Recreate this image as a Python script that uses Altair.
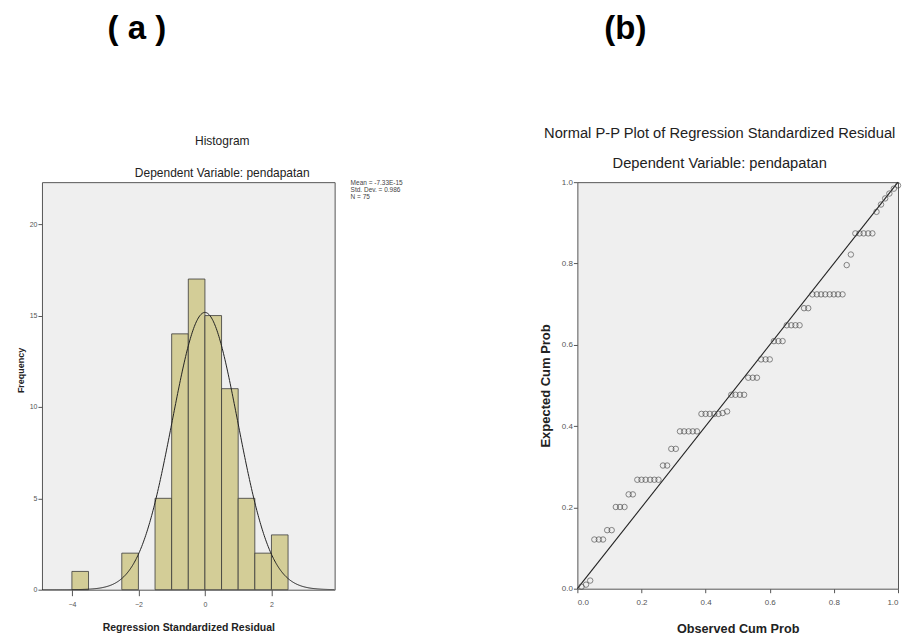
import altair as alt
import pandas as pd

FONT = "Liberation Sans"

# ---------------- data: histogram ----------------
bin_start = [-4.0, -3.5, -3.0, -2.5, -2.0, -1.5, -1.0, -0.5, 0.0, 0.5, 1.0, 1.5, 2.0]
bin_end = [-3.5, -3.0, -2.5, -2.0, -1.5, -1.0, -0.5, 0.0, 0.5, 1.0, 1.5, 2.0, 2.5]
frequency = [1, 0, 0, 2, 0, 5, 14, 17, 15, 11, 5, 2, 3]

resid_mean = 0.0
resid_sd = 0.986
resid_n = 75
bin_width = 0.5
stats_lines = ["Mean = -7.33E-15", "Std. Dev. = 0.986", "N = 75"]

x_ticks_hist = [-4, -2, 0, 2]
y_ticks_hist = [0, 5, 10, 15, 20]

# ---------------- data: P-P plot ----------------
observed_cum = [
    0.013, 0.027, 0.040, 0.053, 0.067, 0.080, 0.093, 0.107, 0.120, 0.133,
    0.147, 0.160, 0.173, 0.187, 0.200, 0.213, 0.227, 0.240, 0.253, 0.267,
    0.280, 0.293, 0.307, 0.320, 0.333, 0.347, 0.360, 0.373, 0.387, 0.400,
    0.413, 0.427, 0.440, 0.453, 0.467, 0.480, 0.493, 0.507, 0.520, 0.533,
    0.547, 0.560, 0.573, 0.587, 0.600, 0.613, 0.627, 0.640, 0.653, 0.667,
    0.680, 0.693, 0.707, 0.720, 0.733, 0.747, 0.760, 0.773, 0.787, 0.800,
    0.813, 0.827, 0.840, 0.853, 0.867, 0.880, 0.893, 0.907, 0.920, 0.933,
    0.947, 0.960, 0.973, 0.987, 1.000,
]
expected_cum = [
    0.005, 0.010, 0.020, 0.121, 0.121, 0.121, 0.144, 0.144, 0.201, 0.201,
    0.201, 0.232, 0.232, 0.268, 0.268, 0.268, 0.268, 0.268, 0.268, 0.303,
    0.303, 0.344, 0.344, 0.387, 0.387, 0.387, 0.387, 0.387, 0.430, 0.430,
    0.430, 0.430, 0.430, 0.432, 0.436, 0.477, 0.477, 0.477, 0.477, 0.519,
    0.519, 0.519, 0.564, 0.564, 0.564, 0.609, 0.609, 0.609, 0.648, 0.648,
    0.648, 0.648, 0.690, 0.690, 0.724, 0.724, 0.724, 0.724, 0.724, 0.724,
    0.724, 0.724, 0.796, 0.822, 0.874, 0.874, 0.874, 0.874, 0.874, 0.927,
    0.945, 0.960, 0.972, 0.984, 0.992,
]
diag_ends = [0.0, 1.0]
pp_ticks = [0.0, 0.2, 0.4, 0.6, 0.8, 1.0]

panel_labels = ["( a )", "(b)"]

hist_df = pd.DataFrame({"bin_start": bin_start, "bin_end": bin_end, "count": frequency})
pp_df = pd.DataFrame({"observed": observed_cum, "expected": expected_cum})
diag_df = pd.DataFrame({"p": diag_ends})

axis_common = dict(grid=False, domain=False, tickColor="#555", labelColor="#555",
                   labelFont=FONT, titleFont=FONT, titleColor="#222")

# ---------------- panel (a): histogram ----------------
A_W, A_H = 293, 408
x_scale_a = alt.Scale(domain=[-4.9, 3.9], nice=False, zero=False)
y_scale_a = alt.Scale(domain=[0, 22.3], nice=False)

bars = alt.Chart(hist_df).transform_filter("datum.count > 0").mark_rect(
    fill="#D3CD97", stroke="#3a3a3a", strokeWidth=0.8
).encode(
    x=alt.X("bin_start:Q", scale=x_scale_a,
            axis=alt.Axis(values=x_ticks_hist, title="Regression Standardized Residual",
                          labelFontSize=7, tickSize=6, labelPadding=5,
                          titleFontSize=10.5, titleFontWeight="bold", titlePadding=15,
                          **axis_common)),
    x2="bin_end:Q",
    y=alt.Y("count:Q", scale=y_scale_a,
            axis=alt.Axis(values=y_ticks_hist, title="Frequency",
                          labelFontSize=7, tickSize=4, labelPadding=1,
                          titleFontSize=9, titleFontWeight="bold", titlePadding=4,
                          titleY=188, **axis_common)),
    y2=alt.datum(0),
)

curve = alt.Chart(alt.sequence(-4.9, 3.91, 0.02, as_="x")).transform_calculate(
    y=f"{resid_n}*{bin_width}*exp(-0.5*pow((datum.x-({resid_mean}))/{resid_sd},2))/({resid_sd}*sqrt(2*PI))"
).mark_line(color="#222", strokeWidth=1, clip=True).encode(
    x=alt.X("x:Q", scale=x_scale_a),
    y=alt.Y("y:Q", scale=y_scale_a),
)

stats = alt.Chart(alt.Data(values=[{}])).mark_text(
    align="left", baseline="top", font=FONT, fontSize=6.5, lineHeight=7, color="#444"
).encode(
    x=alt.value(A_W + 16), y=alt.value(-2), text=alt.value(stats_lines)
)

panel_a = alt.layer(bars, curve, stats).properties(
    width=A_W, height=A_H,
    view=alt.ViewBackground(fill="#EFEFEF", stroke="#555", strokeWidth=1),
    title=alt.TitleParams(
        text="Histogram", subtitle="Dependent Variable: pendapatan",
        font=FONT, subtitleFont=FONT, fontSize=12, subtitleFontSize=12,
        fontWeight="normal", color="#222", subtitleColor="#222",
        anchor="middle", frame="group", dx=34, offset=0, subtitlePadding=20,
    ),
)

# ---------------- panel (b): P-P plot ----------------
B_W, B_H = 321, 407
pp_scale = alt.Scale(domain=[0, 1], nice=False)

points = alt.Chart(pp_df).mark_point(
    shape="circle", filled=False, size=30, stroke="#444", strokeWidth=0.9
).encode(
    x=alt.X("observed:Q", scale=pp_scale,
            axis=alt.Axis(values=pp_ticks, format=".1f", title="Observed Cum Prob",
                          labelFontSize=8, tickSize=4, labelPadding=6,
                          titleFontSize=12.7, titleFontWeight="bold", titlePadding=16,
                          **axis_common)),
    y=alt.Y("expected:Q", scale=pp_scale,
            axis=alt.Axis(values=pp_ticks, format=".1f", title="Expected Cum Prob",
                          labelFontSize=8, tickSize=4, labelPadding=1,
                          titleFontSize=13, titleFontWeight="bold", titlePadding=9,
                          **axis_common)),
)

diag = alt.Chart(diag_df).mark_line(color="#222", strokeWidth=1.1).encode(
    x=alt.X("p:Q", scale=pp_scale), y=alt.Y("p:Q", scale=pp_scale)
)

panel_b = alt.layer(diag, points).properties(
    width=B_W, height=B_H,
    view=alt.ViewBackground(fill="#EFEFEF", stroke="#555", strokeWidth=1),
    title=alt.TitleParams(
        text="Normal P-P Plot of Regression Standardized Residual",
        subtitle="Dependent Variable: pendapatan",
        font=FONT, subtitleFont=FONT, fontSize=14.7, subtitleFontSize=14.7,
        fontWeight="normal", color="#222", subtitleColor="#222",
        anchor="middle", frame="group", dx=-18, offset=7, subtitlePadding=16,
    ),
)

# ---------------- header with (a) / (b) ----------------
head_a = alt.Chart(alt.Data(values=[{}])).mark_text(
    text=panel_labels[0], font=FONT, fontSize=33, fontWeight="bold", color="#000"
).encode(x=alt.value(95), y=alt.value(18))
head_b = alt.Chart(alt.Data(values=[{}])).mark_text(
    text=panel_labels[1], font=FONT, fontSize=33, fontWeight="bold", color="#000"
).encode(x=alt.value(584), y=alt.value(18))
header = alt.layer(head_a, head_b).properties(
    width=620, height=36,
    view=alt.ViewBackground(fill="transparent", stroke="transparent"),
)

row = alt.hconcat(panel_a, panel_b, spacing=135)
chart = alt.vconcat(header, row, spacing=77).properties(
    padding={"left": 7, "top": 2, "right": 0, "bottom": 0}
).configure(background="white")

chart.save("out.html", embed_options={"renderer": "svg", "actions": False})
